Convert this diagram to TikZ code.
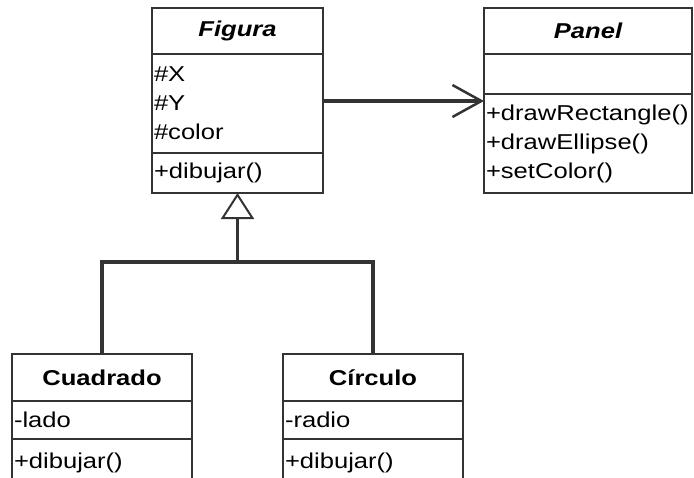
\documentclass[tikz,border=0pt]{standalone}
\usepackage{fontspec}
\setmainfont{Liberation Sans}[FakeStretch=1.19]
\usetikzlibrary{arrows.meta, positioning}

\newcommand\umlsize{\fontsize{21.5}{29}\selectfont}

\begin{document}
\begin{tikzpicture}[
  x=1pt, y=-1pt,
  every node/.style = {font=\umlsize, text=black},
  part/.style = {
    draw=black!80,
    line width=2pt,
    inner xsep=2pt,
    inner ysep=0pt,
    outer sep=0pt,
    align=left
  },
  classname/.style = {
    part,
    align=center,
    font=\umlsize\bfseries
  },
  abstract/.style = {
    classname,
    font=\umlsize\bfseries\itshape
  },
  link/.style = {
    draw=black!80,
    line width=3.5pt
  },
  assoc/.style = {
    link,
    -{Straight Barb[length=29pt, width=32pt, line width=2.5pt]}
  },
  inherit/.style = {
    link
  }
]

\useasboundingbox (0,0) rectangle (694,477);
\clip (0,0) rectangle (694,477);

% abstract classes
\node[abstract, anchor=north west, text width=167pt, minimum height=46pt] (figura) at (152,8) {Figura};
\node[part, below=0pt of figura, text width=167pt, minimum height=99pt] (figura-attr) {\#X\\\#Y\\\#color};
\node[part, below=0pt of figura-attr, text width=167pt, minimum height=40pt] (figura-ops) {+dibujar()};

\node[abstract, right=161pt of figura, text width=204pt, minimum height=46pt] (panel) {Panel};
\node[part, below=0pt of panel, text width=204pt, minimum height=40pt] (panel-attr) {};
\node[part, below=0pt of panel-attr, text width=204pt, minimum height=99pt] (panel-ops) {+drawRectangle()\\+drawEllipse()\\+setColor()};

% subclasses
\node[classname, anchor=north west, text width=176pt, minimum height=47pt] (cuadrado) at (12,354) {Cuadrado};
\node[part, below=0pt of cuadrado, text width=176pt, minimum height=38pt] (cuadrado-attr) {-lado};
\node[part, below=0pt of cuadrado-attr, text width=176pt, minimum height=48pt] (cuadrado-ops) {+dibujar()};

\node[classname, anchor=north west, text width=176pt, minimum height=47pt] (circulo) at (283,354) {Círculo};
\node[part, below=0pt of circulo, text width=176pt, minimum height=38pt] (circulo-attr) {-radio};
\node[part, below=0pt of circulo-attr, text width=176pt, minimum height=48pt] (circulo-ops) {+dibujar()};

% connectors
\draw[assoc] ([yshift=2.5pt]figura-attr.east) -- ([yshift=2.5pt]figura-attr.east -| panel-ops.west);

\coordinate[below=69pt of figura-ops.south] (fork);
\draw[inherit] (cuadrado.north) |- (fork) -| (circulo.north);
\draw[inherit, -{Triangle[open, length=26pt, width=33pt, line width=2pt]}] (fork) -- (figura-ops.south);

\end{tikzpicture}
\end{document}
